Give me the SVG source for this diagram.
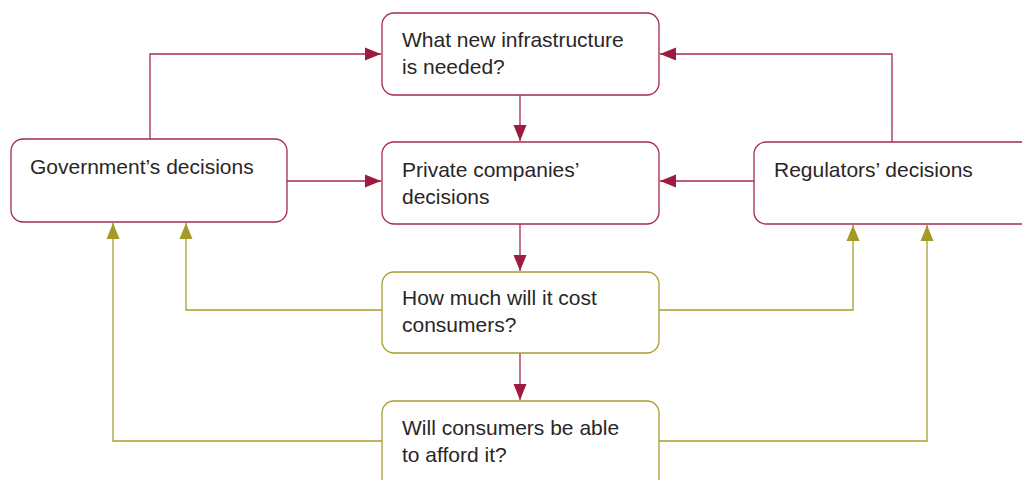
<svg xmlns="http://www.w3.org/2000/svg" width="1022" height="480" viewBox="0 0 1022 480">
  <defs>
    <style>
      .box-red { fill: #ffffff; stroke: #a52a4c; stroke-width: 1.3; }
      .box-olive { fill: #ffffff; stroke: #a89d2e; stroke-width: 1.3; }
      .lbl { font-family: "Liberation Sans", Arial, sans-serif; font-size: 21px; fill: #2a2627; }
      .link-red { fill: none; stroke: #a52a4c; stroke-width: 1.3; }
      .link-olive { fill: none; stroke: #a89d2e; stroke-width: 1.3; }
    </style>
    <marker id="arrow-red" markerUnits="userSpaceOnUse" markerWidth="20" markerHeight="20" viewBox="0 0 20 20" refX="18" refY="10" orient="auto">
      <path d="M2,3.5 L18,10 L2,16.5 Z" fill="#9c1c40"/>
    </marker>
    <marker id="arrow-olive" markerUnits="userSpaceOnUse" markerWidth="20" markerHeight="20" viewBox="0 0 20 20" refX="18" refY="10" orient="auto">
      <path d="M2,3.5 L18,10 L2,16.5 Z" fill="#a39a27"/>
    </marker>
  </defs>

  <!-- connectors -->
  <g id="connectors">
    <path class="link-red" d="M150,139 V54 H381" marker-end="url(#arrow-red)"/>
    <path class="link-red" d="M892,142 V54 H660" marker-end="url(#arrow-red)"/>
    <path class="link-red" d="M520,95 V141" marker-end="url(#arrow-red)"/>
    <path class="link-red" d="M287,181 H381" marker-end="url(#arrow-red)"/>
    <path class="link-red" d="M754,181 H660" marker-end="url(#arrow-red)"/>
    <path class="link-red" d="M520,224 V271" marker-end="url(#arrow-red)"/>
    <path class="link-red" d="M520,353 V400" marker-end="url(#arrow-red)"/>
    <path class="link-olive" d="M382,310 H186 V223" marker-end="url(#arrow-olive)"/>
    <path class="link-olive" d="M659,310 H853 V225" marker-end="url(#arrow-olive)"/>
    <path class="link-olive" d="M382,441 H113 V223" marker-end="url(#arrow-olive)"/>
    <path class="link-olive" d="M659,441 H927 V225" marker-end="url(#arrow-olive)"/>
  </g>

  <g id="node-infrastructure">
    <rect class="box-red" x="382" y="13" width="277" height="82" rx="12"/>
    <text class="lbl" x="402" y="47">What new infrastructure</text>
    <text class="lbl" x="402" y="74">is needed?</text>
  </g>

  <g id="node-government">
    <rect class="box-red" x="11" y="139" width="276" height="83" rx="12"/>
    <text class="lbl" x="30" y="174">Government’s decisions</text>
  </g>

  <g id="node-private">
    <rect class="box-red" x="382" y="142" width="277" height="82" rx="12"/>
    <text class="lbl" x="402" y="177">Private companies’</text>
    <text class="lbl" x="402" y="204">decisions</text>
  </g>

  <g id="node-regulators">
    <rect class="box-red" x="754" y="142" width="280" height="82" rx="12"/>
    <text class="lbl" x="774" y="177">Regulators’ decisions</text>
  </g>

  <g id="node-cost">
    <rect class="box-olive" x="382" y="272" width="277" height="81" rx="12"/>
    <text class="lbl" x="402" y="305">How much will it cost</text>
    <text class="lbl" x="402" y="332">consumers?</text>
  </g>

  <g id="node-afford">
    <rect class="box-olive" x="382" y="401" width="277" height="90" rx="12"/>
    <text class="lbl" x="402" y="435">Will consumers be able</text>
    <text class="lbl" x="402" y="462">to afford it?</text>
  </g>
</svg>
